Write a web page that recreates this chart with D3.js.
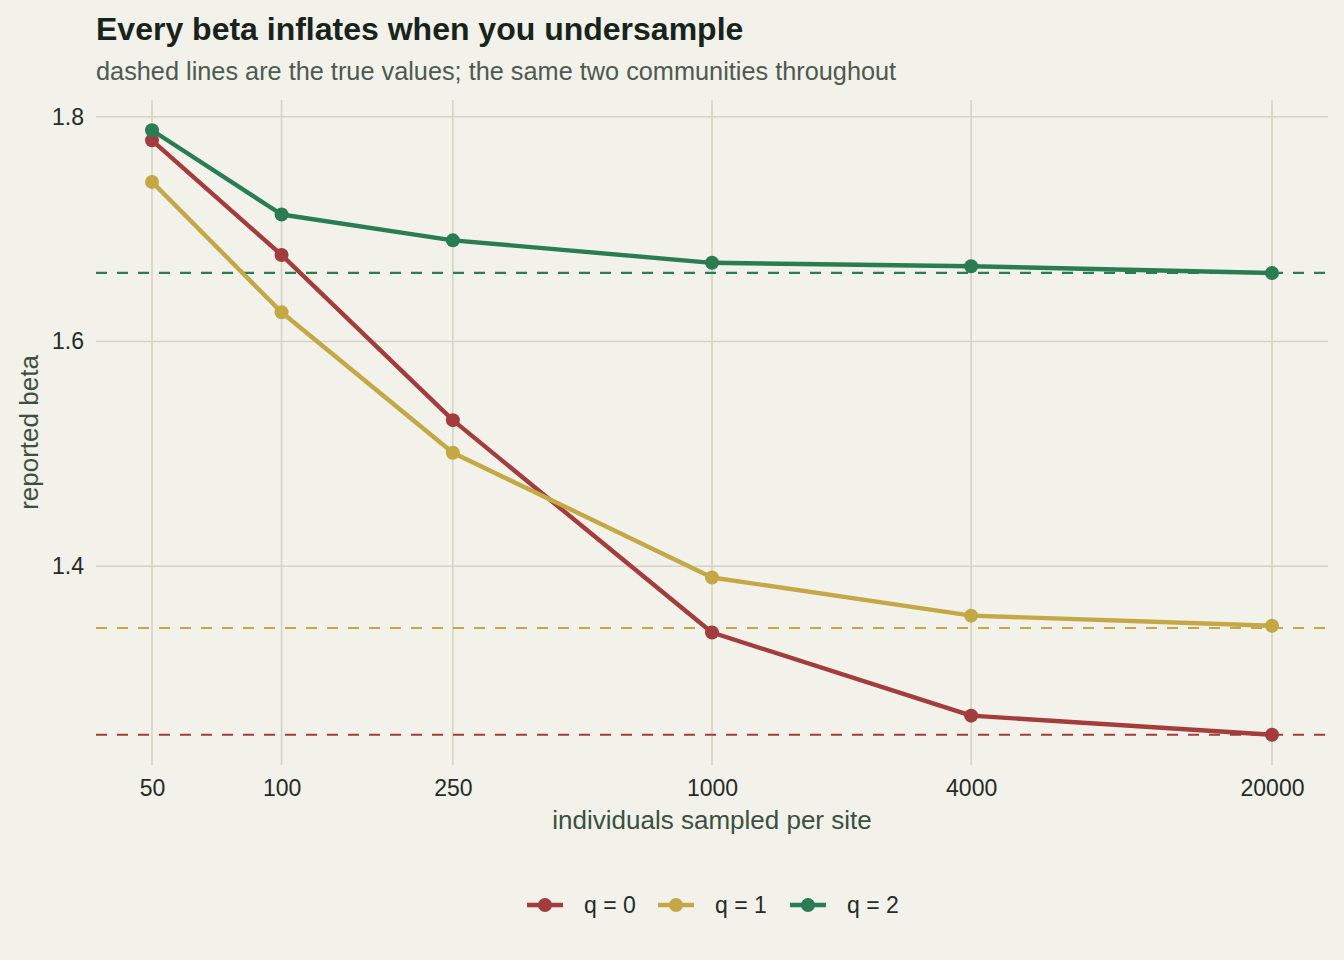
<!DOCTYPE html>
<html>
<head>
<meta charset="utf-8">
<script src="https://cdn.jsdelivr.net/npm/d3@7"></script>
<style>
  html, body { margin: 0; padding: 0; background: #f2f1ea; }
  svg { display: block; font-family: "Liberation Sans", Arial, sans-serif; }
</style>
</head>
<body>
<div id="chart"></div>
<script>
// sample sizes (x) and reported beta per q order
var sampleSizes = [50, 100, 250, 1000, 4000, 20000];
var seriesNames = ['q = 0', 'q = 1', 'q = 2'];
var betaQ0 = [1.779, 1.677, 1.530, 1.341, 1.267, 1.250];
var betaQ1 = [1.742, 1.626, 1.501, 1.390, 1.356, 1.347];
var betaQ2 = [1.788, 1.713, 1.690, 1.670, 1.667, 1.661];
var trueBeta = [1.250, 1.345, 1.661];
var yTicks = [1.4, 1.6, 1.8];

var colors = ['#a33c3c', '#c3a845', '#2a7d52'];

var W = 1344, H = 960;
var panel = {left: 96, right: 1328, top: 100, bottom: 765};

var series = [betaQ0, betaQ1, betaQ2].map(function (vals, i) {
  return {
    name: seriesNames[i],
    color: colors[i],
    truth: trueBeta[i],
    points: vals.map(function (v, j) { return {n: sampleSizes[j], beta: v}; })
  };
});

var svg = d3.select('#chart').append('svg')
  .attr('width', W)
  .attr('height', H);

svg.append('rect').attr('width', W).attr('height', H).attr('fill', '#f2f1ea');

// log x with ggplot-like 5% expansion
var lx = [Math.log10(d3.min(sampleSizes)), Math.log10(d3.max(sampleSizes))];
var lpad = (lx[1] - lx[0]) * 0.05;
var x = d3.scaleLog()
  .domain([Math.pow(10, lx[0] - lpad), Math.pow(10, lx[1] + lpad)])
  .range([panel.left, panel.right]);

var allY = [].concat(betaQ0, betaQ1, betaQ2, trueBeta);
var yMin = d3.min(allY), yMax = d3.max(allY);
var ypad = (yMax - yMin) * 0.05;
var y = d3.scaleLinear()
  .domain([yMin - ypad, yMax + ypad])
  .range([panel.bottom, panel.top]);

// grid
var grid = svg.append('g').attr('stroke', '#d5d4c3').attr('stroke-width', 1.6);
grid.selectAll('line.gx').data(sampleSizes).enter().append('line')
  .attr('x1', function (d) { return x(d); })
  .attr('x2', function (d) { return x(d); })
  .attr('y1', panel.top).attr('y2', panel.bottom);
grid.selectAll('line.gy').data(yTicks).enter().append('line')
  .attr('y1', function (d) { return y(d); })
  .attr('y2', function (d) { return y(d); })
  .attr('x1', panel.left).attr('x2', panel.right);

// axes (labels only)
var xAxis = svg.append('g')
  .attr('transform', 'translate(0,' + (panel.bottom + 15) + ')')
  .call(d3.axisBottom(x).tickValues(sampleSizes).tickFormat(d3.format('d')).tickSize(0).tickPadding(0));
var yAxis = svg.append('g')
  .attr('transform', 'translate(' + (panel.left - 12) + ',0)')
  .call(d3.axisLeft(y).tickValues(yTicks).tickFormat(d3.format('.1f')).tickSize(0).tickPadding(0));
[xAxis, yAxis].forEach(function (a) {
  a.select('.domain').remove();
  a.selectAll('text')
    .attr('fill', '#252b26')
    .style('font-size', '23px')
    .style('font-family', '"Liberation Sans", Arial, sans-serif');
});
xAxis.selectAll('text').attr('dy', '0.71em');

// dashed true values
svg.append('g').selectAll('line').data(series).enter().append('line')
  .attr('x1', panel.left).attr('x2', panel.right)
  .attr('y1', function (d) { return y(d.truth); })
  .attr('y2', function (d) { return y(d.truth); })
  .attr('stroke', function (d) { return d.color; })
  .attr('stroke-width', 2.2)
  .attr('stroke-dasharray', '11,10');

// lines and points
var line = d3.line()
  .x(function (d) { return x(d.n); })
  .y(function (d) { return y(d.beta); });

var sg = svg.append('g').selectAll('g').data(series).enter().append('g');
sg.append('path')
  .attr('d', function (d) { return line(d.points); })
  .attr('fill', 'none')
  .attr('stroke', function (d) { return d.color; })
  .attr('stroke-width', 4.4)
  .attr('stroke-linejoin', 'round');
sg.selectAll('circle').data(function (d) { return d.points.map(function (p) { return {p: p, color: d.color}; }); })
  .enter().append('circle')
  .attr('cx', function (d) { return x(d.p.n); })
  .attr('cy', function (d) { return y(d.p.beta); })
  .attr('r', 7)
  .attr('fill', function (d) { return d.color; });

// titles
svg.append('text')
  .attr('x', 96).attr('y', 40)
  .attr('fill', '#18241b')
  .style('font-size', '32px').style('font-weight', 'bold')
  .text('Every beta inflates when you undersample');
svg.append('text')
  .attr('x', 96).attr('y', 80)
  .attr('fill', '#4d5a50')
  .style('font-size', '25.3px')
  .text('dashed lines are the true values; the same two communities throughout');

svg.append('text')
  .attr('x', (panel.left + panel.right) / 2).attr('y', 829)
  .attr('text-anchor', 'middle')
  .attr('fill', '#3b5040')
  .style('font-size', '26px')
  .text('individuals sampled per site');
svg.append('text')
  .attr('transform', 'translate(38,' + ((panel.top + panel.bottom) / 2) + ') rotate(-90)')
  .attr('text-anchor', 'middle')
  .attr('fill', '#3b5040')
  .style('font-size', '26px')
  .text('reported beta');

// legend
var legendX = [527, 658, 790];
var lg = svg.append('g').selectAll('g').data(series).enter().append('g')
  .attr('transform', function (d, i) { return 'translate(' + legendX[i] + ',905)'; });
lg.append('line')
  .attr('x1', 0).attr('x2', 36)
  .attr('stroke', function (d) { return d.color; })
  .attr('stroke-width', 4.4);
lg.append('circle')
  .attr('cx', 18).attr('r', 7)
  .attr('fill', function (d) { return d.color; });
lg.append('text')
  .attr('x', 57).attr('dy', '0.35em')
  .attr('fill', '#252b26')
  .style('font-size', '23px')
  .text(function (d) { return d.name; });
</script>
</body>
</html>
